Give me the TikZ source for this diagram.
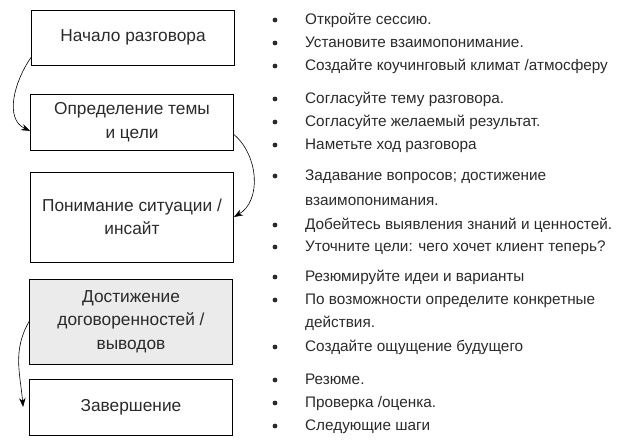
\documentclass[tikz,border=0pt]{standalone}
\usepackage{fontspec}
\setmainfont{Liberation Sans}
\usetikzlibrary{positioning,arrows.meta}
\definecolor{boxgray}{HTML}{EBEBEB}
\definecolor{ink}{HTML}{2A2A2A}
\tikzset{
  stage/.style={draw=black, line width=0.8pt, minimum width=203pt, align=center,
    text=ink, font=\fontsize{17.3}{23.5}\selectfont},
  point/.style={anchor=base west, inner sep=0pt, text=ink, font=\fontsize{15.3}{23}\selectfont},
  dot/.style={circle, fill=ink, inner sep=0pt, minimum size=4.8pt},
  flow/.style={-{Stealth[length=9pt,width=6.5pt]}, line width=0.6pt}
}
\begin{document}
\begin{tikzpicture}[x=1pt,y=-1pt]
	\useasboundingbox (0,0) rectangle (625,446);
	% stages
	\node [stage, minimum height=55pt] (start) at (133,37.5) {Начало разговора};
	\node [stage, minimum height=56pt] (topic) at (132,122) {Определение темы\\и цели};
	\node [stage, minimum height=90pt] (insight) at (132,217) {Понимание ситуации /\\инсайт};
	\node [stage, minimum height=85pt, fill=boxgray] (agree) at (131,321.5) {Достижение\\договоренностей /\\выводов};
	\node [stage, minimum height=56pt] (finish) at (131,407) {Завершение};
	\coordinate [left=6pt of finish.west] (finishtip);
	% arrows between stages
	\draw [flow] (start.191) to [out=235, in=155] (topic.185);
	\draw [flow] (topic.353) to [out=-40, in=30] (insight.east);
	\draw [flow] (agree.west) to [out=240, in=95] (finishtip);
	% bullets
	\foreach \y [count=\i] in {20,43,66,99,122,145,176,225,247,277,300,347,380,403,426}
		\node [dot] (b\i) at (275,\y) {};
	% points
	\foreach \y/\txt [count=\i] in {
		25/{Откройте сессию.},
		48/{Установите взаимопонимание.},
		71/{Создайте коучинговый климат /атмосферу},
		104/{Согласуйте тему разговора.},
		127/{Согласуйте желаемый результат.},
		150/{Наметьте ход разговора},
		181/{Задавание вопросов; достижение},
		206/{взаимопонимания.},
		230/{Добейтесь выявления знаний и ценностей.},
		252/{Уточните цели: чего хочет клиент теперь?},
		282/{Резюмируйте идеи и варианты},
		305/{По возможности определите конкретные},
		328/{действия.},
		352/{Создайте ощущение будущего},
		385/{Резюме.},
		408/{Проверка /оценка.},
		431/{Следующие шаги}}
		\node [point] (p\i) at (305,\y) {\txt};
\end{tikzpicture}
\end{document}
